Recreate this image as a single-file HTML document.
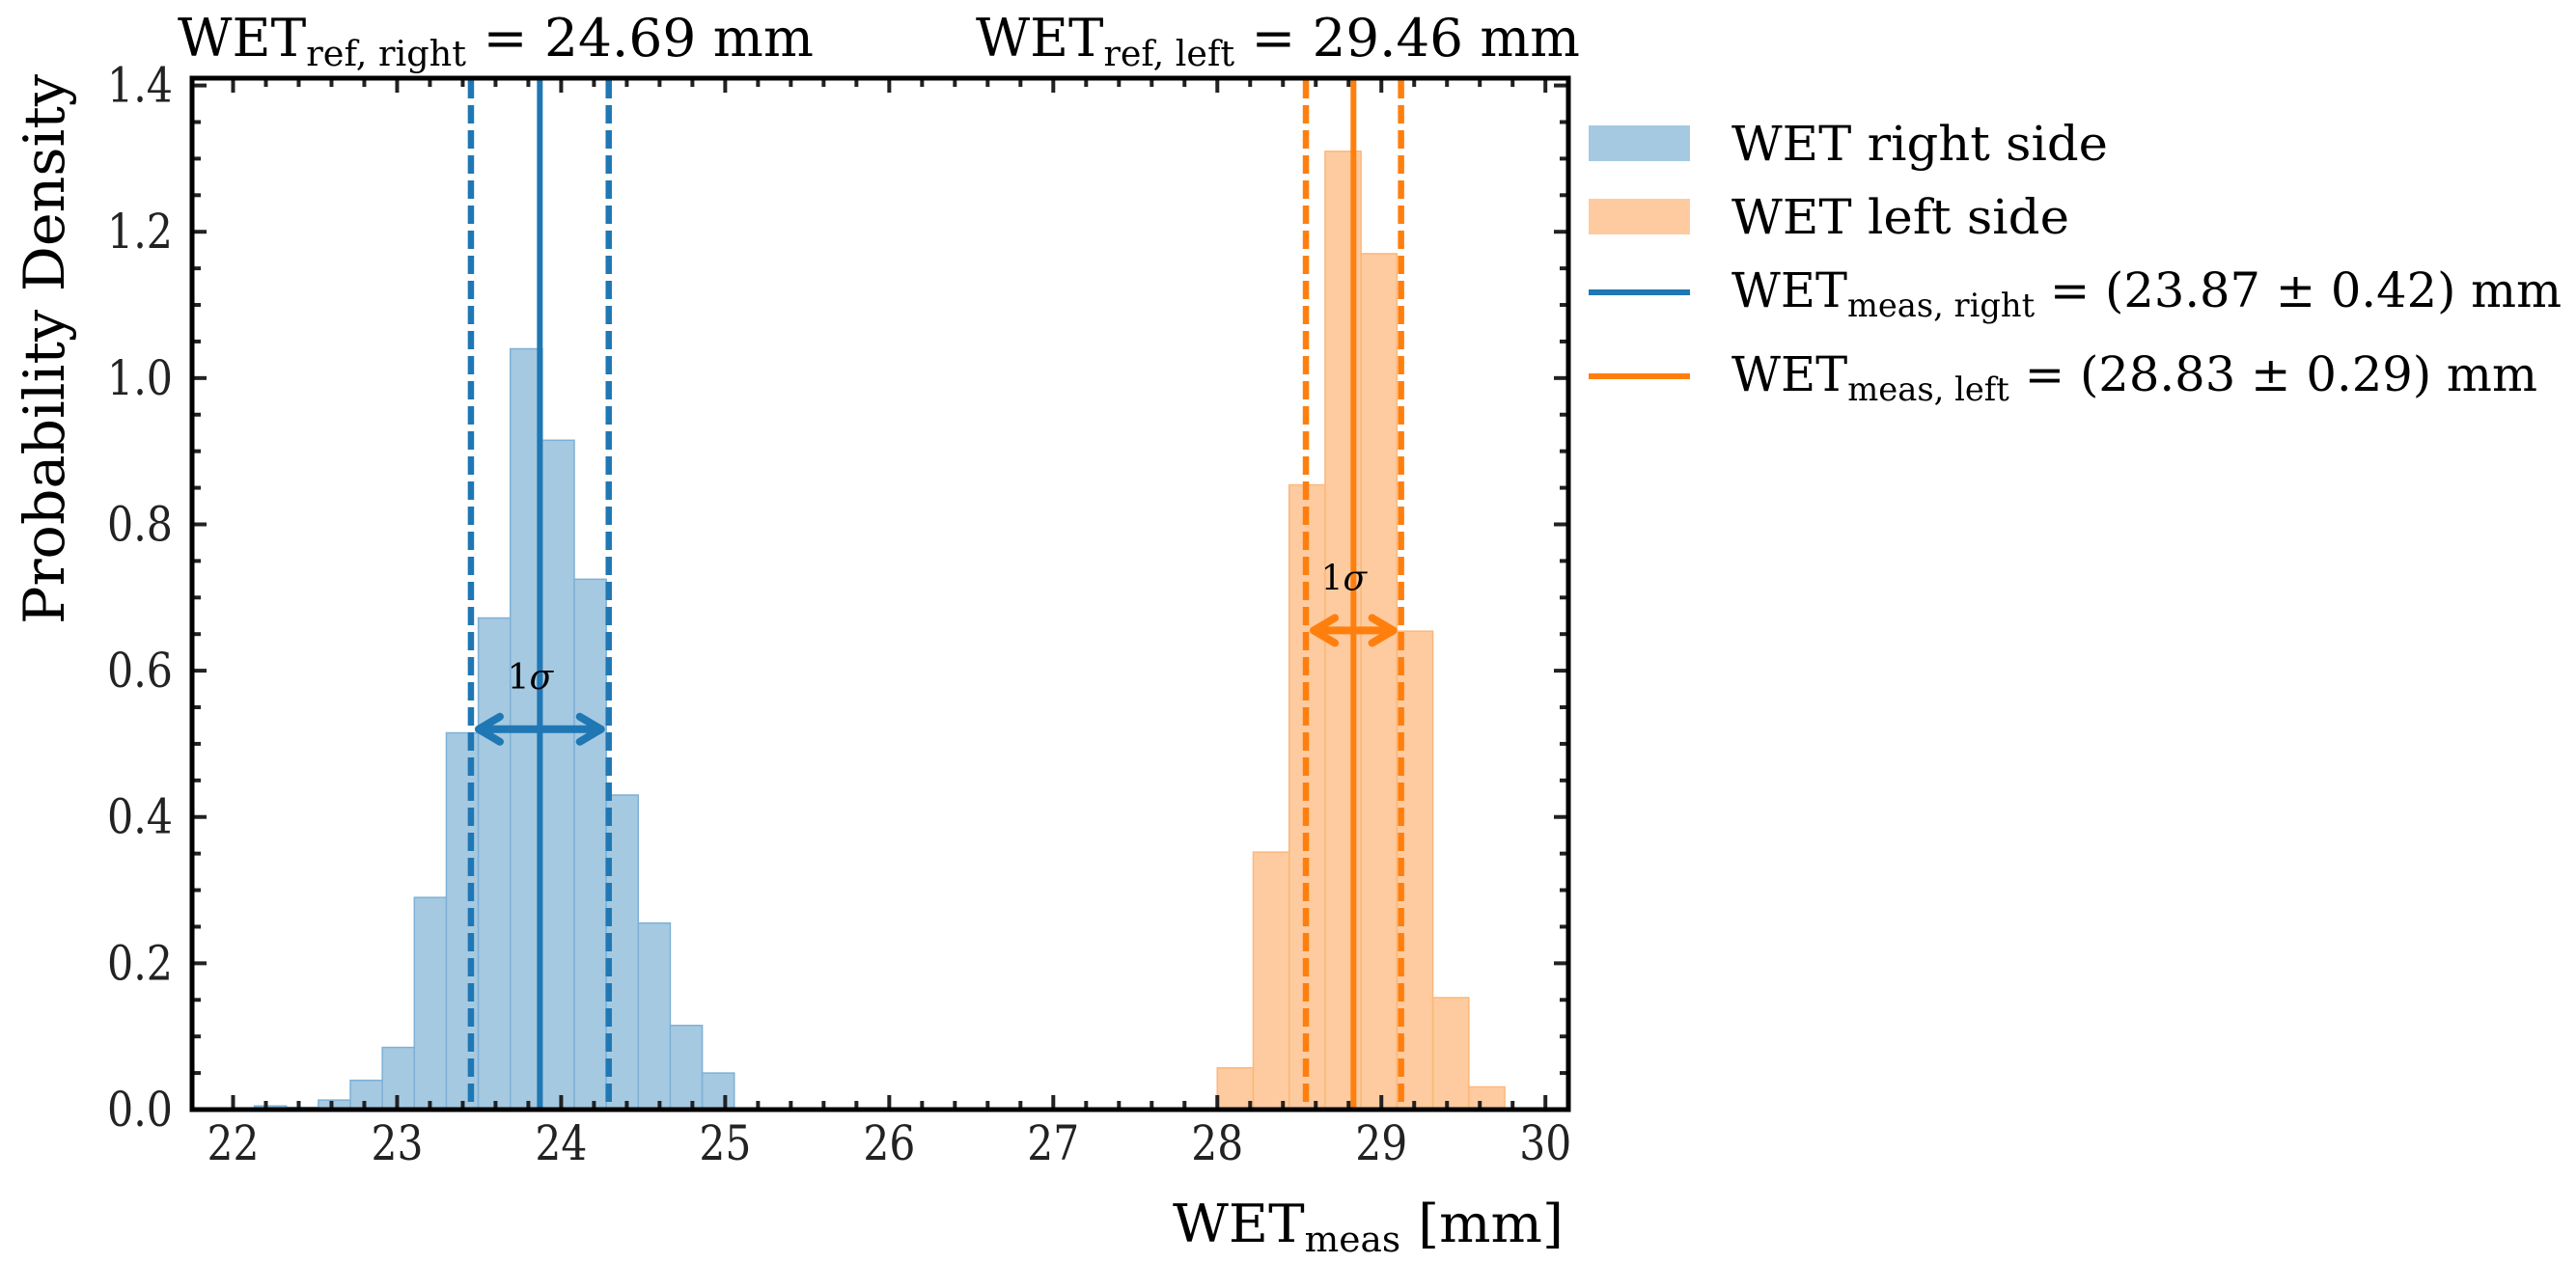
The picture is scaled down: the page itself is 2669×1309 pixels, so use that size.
<!DOCTYPE html>
<html><head><meta charset="utf-8"><style>
html,body{margin:0;padding:0;background:#fff;}
svg{display:block;font-family:"DejaVu Serif","Liberation Serif",serif;}
</style></head><body>
<svg id="chart" width="2669" height="1309" viewBox="0 0 2669 1309" xmlns="http://www.w3.org/2000/svg">
<g id="bars"></g><g id="lines"></g><g id="ticks"></g><g id="labels"></g>
<rect x="199" y="81" width="1426" height="1069" fill="none" stroke="#000" stroke-width="5"/>
<text x="184" y="58" font-size="54" textLength="659" lengthAdjust="spacingAndGlyphs">WET<tspan font-size="36" dy="10">ref, right</tspan><tspan dy="-10"> = 24.69 mm</tspan></text>
<text x="1011" y="58" font-size="54" textLength="626" lengthAdjust="spacingAndGlyphs">WET<tspan font-size="36" dy="10">ref, left</tspan><tspan dy="-10"> = 29.46 mm</tspan></text>
<text transform="translate(66,362) rotate(-90)" text-anchor="middle" font-size="58" textLength="570" lengthAdjust="spacingAndGlyphs">Probability Density</text>
<text x="1215" y="1287" font-size="54" textLength="405" lengthAdjust="spacingAndGlyphs">WET<tspan font-size="36" dy="10">meas</tspan><tspan dy="-10"> [mm]</tspan></text>
<g font-size="50">
<rect x="1646" y="130" width="105" height="37" fill="#a5c9e1"/>
<text x="1794" y="166" textLength="390" lengthAdjust="spacingAndGlyphs">WET right side</text>
<rect x="1646" y="206" width="105" height="37" fill="#fdcb9f"/>
<text x="1794" y="242" textLength="350" lengthAdjust="spacingAndGlyphs">WET left side</text>
<line x1="1646" x2="1751" y1="303" y2="303" stroke="#1f77b4" stroke-width="6"/>
<text x="1794" y="318" textLength="860" lengthAdjust="spacingAndGlyphs">WET<tspan font-size="34" dy="10">meas, right</tspan><tspan dy="-10"> = (23.87 ± 0.42) mm</tspan></text>
<line x1="1646" x2="1751" y1="390" y2="390" stroke="#ff7f0e" stroke-width="6"/>
<text x="1794" y="405" textLength="835" lengthAdjust="spacingAndGlyphs">WET<tspan font-size="34" dy="10">meas, left</tspan><tspan dy="-10"> = (28.83 ± 0.29) mm</tspan></text>
</g>
</svg>
<script>
const blueStart = 22.13, blueBinWidth = 0.195;
const blueHeights = [0.005,0.003,0.013,0.04,0.085,0.29,0.515,0.672,1.04,0.915,0.725,0.43,0.255,0.115,0.05];
const orangeStart = 28.0, orangeBinWidth = 0.219;
const orangeHeights = [0.057,0.352,0.854,1.31,1.17,0.654,0.153,0.031];
const means = [23.87, 28.83];
const sigmas = [0.42, 0.29];
const arrowY = [0.52, 0.655];
const xTicks = [22,23,24,25,26,27,28,29,30];
const yTicks = [0.0,0.2,0.4,0.6,0.8,1.0,1.2,1.4];

const L=199,R=1625,T=81,B=1150, X0=21.75, X1=30.14, Y1=1.41;
const sx=v=>L+(v-X0)/(X1-X0)*(R-L);
const sy=v=>B-v/Y1*(B-T);
const NS='http://www.w3.org/2000/svg';
function mk(tag,attrs,parent){const e=document.createElementNS(NS,tag);for(const k in attrs)e.setAttribute(k,attrs[k]);document.getElementById(parent).appendChild(e);return e;}

blueHeights.forEach((h,i)=>{const a=blueStart+i*blueBinWidth;
 const r=mk('rect',{x:sx(a),y:sy(h),width:sx(a+blueBinWidth)-sx(a),height:B-sy(h),fill:'#a5c9e1',stroke:'#7fb0d5','stroke-width':1.5},'bars');
 
 });
orangeHeights.forEach((h,i)=>{const a=orangeStart+i*orangeBinWidth;
 const r=mk('rect',{x:sx(a),y:sy(h),width:sx(a+orangeBinWidth)-sx(a),height:B-sy(h),fill:'#fdcb9f',stroke:'#fcb77a','stroke-width':1.5},'bars');
 
 });

const cols=['#1f77b4','#ff7f0e'];
means.forEach((m,i)=>{
 const c=cols[i];
 const ml=mk('line',{x1:sx(m),x2:sx(m),y1:T,y2:B,stroke:c,'stroke-width':6},'lines');
 
 
 [m-sigmas[i],m+sigmas[i]].forEach(v=>{
  const d=mk('line',{x1:sx(v),x2:sx(v),y1:T+2,y2:B,stroke:c,'stroke-width':6.5,'stroke-dasharray':'19 7'},'lines');
  
  });
 const xa=sx(m-sigmas[i])+8, xb=sx(m+sigmas[i])-8, y=sy(arrowY[i]);
 const ar=mk('path',{d:`M${xa+22},${y-13} L${xa},${y} L${xa+22},${y+13} M${xa},${y} L${xb},${y} M${xb-22},${y-13} L${xb},${y} L${xb-22},${y+13}`,fill:'none',stroke:c,'stroke-width':8,'stroke-linecap':'round','stroke-linejoin':'round'},'lines');
 
 
 const t=mk('text',{x:(xa+xb)/2-10,y:y-42,'font-size':36,'text-anchor':'middle'},'labels');
 t.innerHTML='1<tspan font-style="italic">σ</tspan>';
 
 
});

for(let v=22;v<=30.001;v+=0.2){const major=Math.abs(v-Math.round(v))<1e-6;const len=major?15:9;const x=sx(v);
 [[B,B-len],[T,T+len]].forEach(p=>{const tk=mk('line',{x1:x,x2:x,y1:p[0],y2:p[1],stroke:'#222','stroke-width':4},'ticks');
 
 });}
for(let v=0;v<=1.4001;v+=0.05){const major=Math.abs(v*5-Math.round(v*5))<1e-6;const len=major?15:9;const y=sy(v);
 [[L,L+len],[R,R-len]].forEach(p=>{const tk=mk('line',{x1:p[0],x2:p[1],y1:y,y2:y,stroke:'#222','stroke-width':4},'ticks');
 
 });}
xTicks.forEach(v=>{const t=mk('text',{x:sx(v)-27,y:B+52,'font-size':50,fill:'#222',textLength:54,lengthAdjust:'spacingAndGlyphs'},'labels');t.textContent=String(v);
 
 });
yTicks.forEach(v=>{const t=mk('text',{x:L-88,y:sy(v)+17,'font-size':50,fill:'#222',textLength:68,lengthAdjust:'spacingAndGlyphs'},'labels');t.textContent=v.toFixed(1);
 
 });
</script>
</body></html>
